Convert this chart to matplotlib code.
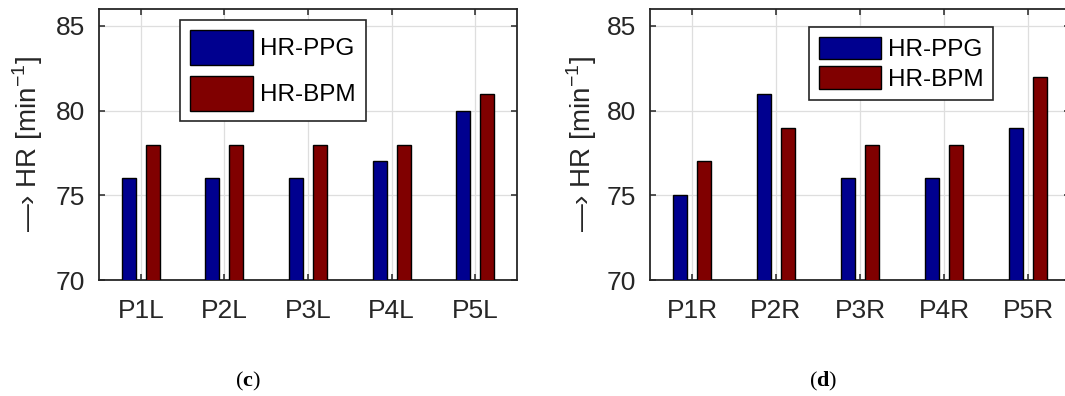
import matplotlib
matplotlib.use("Agg")
import matplotlib.pyplot as plt
import numpy as np

# ---- data ----
cats_left = ["P1L", "P2L", "P3L", "P4L", "P5L"]
ppg_left = [76, 76, 76, 77, 80]
bpm_left = [78, 78, 78, 78, 81]

cats_right = ["P1R", "P2R", "P3R", "P4R", "P5R"]
ppg_right = [75, 81, 76, 76, 79]
bpm_right = [77, 79, 78, 78, 82]

series_labels = ["HR-PPG", "HR-BPM"]
y_ticks = [70, 75, 80, 85]
captions = ["c", "d"]

# ---- style ----
plt.rcParams['font.family'] = ['Liberation Sans', 'DejaVu Sans']
plt.rcParams['mathtext.fontset'] = 'custom'
plt.rcParams['mathtext.rm'] = 'Liberation Sans'
plt.rcParams['mathtext.bf'] = 'Liberation Serif:bold'

BLUE = "#00008F"
RED = "#800000"
DARK = "#262626"
GRID = "#dedede"
FS_TICK = 19
FS_LEG = 17.5

W, H = 1065, 396
fig = plt.figure(figsize=(W / 100, H / 100), dpi=100)


def make_panel(rect, cats, ppg, bpm, leg_anchor, leg_hl, leg_hh, leg_ls, label_x, cap, cap_x):
    ax = fig.add_axes(rect)
    x = np.arange(1, len(cats) + 1)
    off, bw = 0.143, 0.167
    ax.bar(x - off, ppg, bw, color=BLUE, edgecolor="black", linewidth=1.0,
           label=series_labels[0], zorder=3)
    ax.bar(x + off, bpm, bw, color=RED, edgecolor="black", linewidth=1.0,
           label=series_labels[1], zorder=3)
    ax.set_xlim(0.5, len(cats) + 0.5)
    ax.set_ylim(70, 86)
    ax.set_xticks(x)
    ax.set_xticklabels(cats)
    ax.set_yticks(y_ticks)
    ax.grid(True, color=GRID, linewidth=0.9, zorder=0)
    ax.set_axisbelow(True)
    ax.tick_params(direction="in", length=4.5, width=1.1, colors=DARK,
                   labelsize=FS_TICK, top=True, right=True, pad=10)
    ax.tick_params(axis="x", pad=14)
    for s in ax.spines.values():
        s.set_color(DARK)
        s.set_linewidth(1.3)
    ax.set_ylabel("—› HR [min$^{-1}$]", fontsize=20, color=DARK)
    ax.yaxis.set_label_coords(label_x, 0.5)
    leg = ax.legend(loc="upper left", bbox_to_anchor=leg_anchor,
                    bbox_transform=fig.transFigure, borderaxespad=0,
                    fontsize=FS_LEG, handlelength=leg_hl, handleheight=leg_hh,
                    labelspacing=leg_ls, handletextpad=0.3, borderpad=0.4,
                    fancybox=False, framealpha=1, edgecolor=DARK)
    leg.get_frame().set_linewidth(1.2)
    fig.text(cap_x, 1 - 381 / H, "(" + r"$\mathbf{" + cap + "}$" + ")",
             ha="center", va="center", fontsize=16,
             family=["Liberation Serif", "DejaVu Serif"], color="black")
    return ax


make_panel([99 / W, 1 - 280 / H, 418 / W, 271 / H], cats_left, ppg_left, bpm_left,
           (180 / W, 1 - 20 / H), 2.6, 1.85, 0.45, -0.128, captions[0], 248 / W)
make_panel([650 / W, 1 - 280 / H, 420 / W, 271 / H], cats_right, ppg_right, bpm_right,
           (809 / W, 1 - 27 / H), 2.55, 1.05, 0.2, -0.121, captions[1], 823 / W)

fig.savefig("out.png", dpi=100)
